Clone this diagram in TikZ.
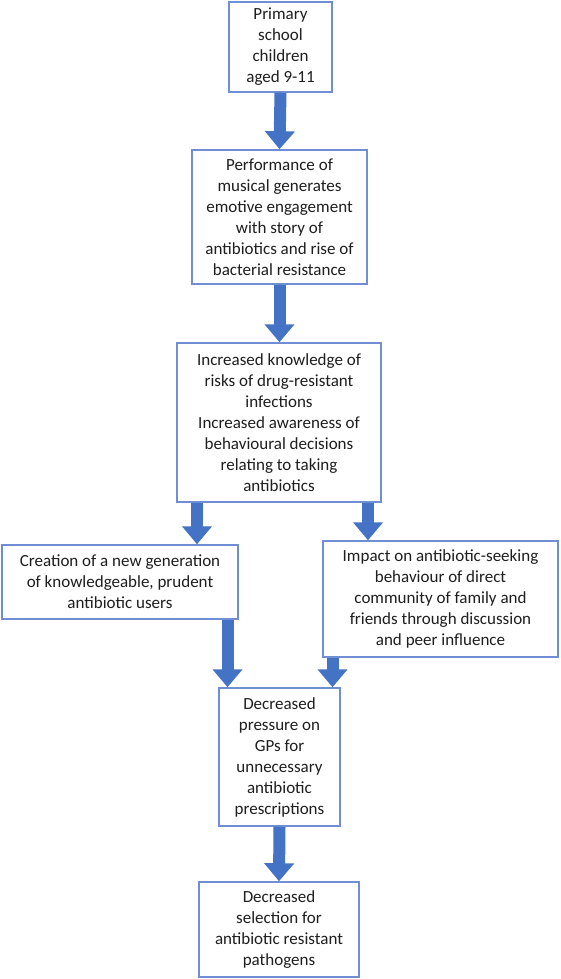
\documentclass[tikz,border=0pt]{standalone}
\usepackage{fontspec}
\setmainfont{Carlito}
\usetikzlibrary{arrows.meta}

\definecolor{boxblue}{RGB}{112,142,212}
\definecolor{arrowblue}{RGB}{68,114,196}
\definecolor{textgrey}{RGB}{30,30,30}

\tikzset{
	box/.style={draw=boxblue, line width=1.5pt, fill=white, align=center, inner sep=0pt,
		text=textgrey, font=\fontsize{17}{21}\selectfont},
	fatarrow/.style={draw=arrowblue, line width=12pt, -{Triangle[width=29pt,length=18pt]}}
}

\begin{document}
\begin{tikzpicture}[x=1pt, y=-1pt]

	\useasboundingbox (0,0) rectangle (560,979);

	\node[box, minimum width=103pt, minimum height=90pt] (v1) at (280.5,47) {Primary\\school\\children\\aged 9-11};
	\node[box, minimum width=175pt, minimum height=134pt] (v2) at (279.5,217) {Performance of\\musical generates\\emotive engagement\\with story of\\antibiotics and rise of\\bacterial resistance};
	\node[box, minimum width=204pt, minimum height=159pt] (v3) at (279,422.5) {Increased knowledge of\\risks of drug-resistant\\infections\\Increased awareness of\\behavioural decisions\\relating to taking\\antibiotics};
	\node[box, minimum width=236pt, minimum height=74pt] (v4) at (120,582) {Creation of a new generation\\of knowledgeable, prudent\\antibiotic users};
	\node[box, minimum width=235pt, minimum height=116pt] (v5) at (440.5,599) {Impact on antibiotic-seeking\\behaviour of direct\\community of family and\\friends through discussion\\and peer influence};
	\node[box, minimum width=121pt, minimum height=138pt] (v6) at (279.5,757) {Decreased\\pressure on\\GPs for\\unnecessary\\antibiotic\\prescriptions};
	\node[box, minimum width=160pt, minimum height=95pt] (v7) at (279,929.5) {Decreased\\selection for\\antibiotic resistant\\pathogens};

	\coordinate (x34) at (197,0);
	\coordinate (x35) at (368,0);
	\coordinate (x46) at (227.5,0);
	\coordinate (x56) at (332.5,0);

	\draw[fatarrow] (v1.south) -- (v2.north);
	\draw[fatarrow] (v2.south) -- (v2.south |- v3.north);
	\draw[fatarrow] (v3.south -| x34) -- (v4.north -| x34);
	\draw[fatarrow] (v3.south -| x35) -- (v5.north -| x35);
	\draw[fatarrow] (v4.south -| x46) -- (v6.north -| x46);
	\draw[fatarrow] (v5.south -| x56) -- (v6.north -| x56);
	\draw[fatarrow] (v6.south) -- (v7.north);

\end{tikzpicture}
\end{document}
